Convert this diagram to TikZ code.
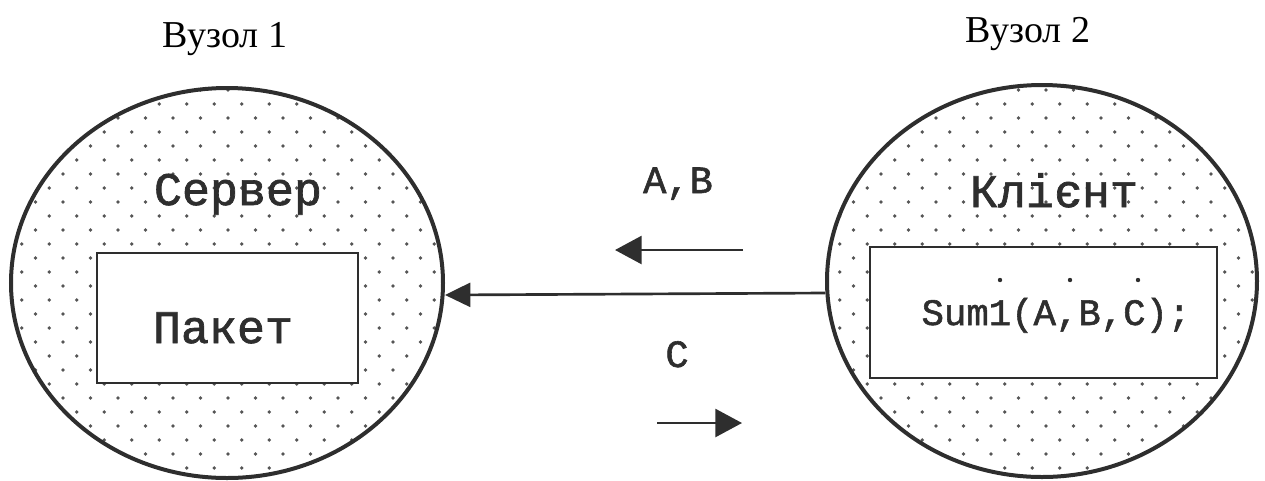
\documentclass[tikz,border=0pt]{standalone}
\usepackage{fontspec}
\setmainfont{Liberation Serif}
\newfontfamily\courf{Liberation Mono}[FakeBold=1.5]
\usetikzlibrary{shapes.geometric,arrows.meta}
\definecolor{ink}{HTML}{2E2E2E}
\definecolor{dotc}{HTML}{555555}
\tikzset{
  nodeell/.style={ellipse, draw=ink, line width=3pt, inner sep=0pt},
  procbox/.style={rectangle, draw=ink, fill=white, line width=2.2pt, inner sep=0pt},
  bigtxt/.style={anchor=base, text=ink, font=\courf\fontsize{35}{40}\selectfont, inner sep=0pt},
  codetxt/.style={anchor=base, text=ink, font=\courf\fontsize{28}{32}\selectfont, inner sep=0pt},
  lbltxt/.style={anchor=base, text=ink, font=\courf\fontsize{29}{33}\selectfont, inner sep=0pt},
  titletxt/.style={anchor=base, text=black, font=\fontsize{28.5}{32}\selectfont, inner sep=0pt},
  flowarrow/.style={draw=ink, line width=2pt, -{Triangle[length=19pt,width=18pt]}},
  smallarrow/.style={draw=ink, line width=2pt, -{Triangle[length=20pt,width=21pt]}},
  dotfill/.style={fill=dotc}
}
\begin{document}
\begin{tikzpicture}[x=0.75pt,y=-0.75pt]
\useasboundingbox (0,0) rectangle (1265,480);
% dotted fill of the two nodes
\begin{scope}
  \clip (227,283) ellipse [x radius=216, y radius=195];
  \foreach \j [evaluate=\j as \off using {mod(\j,2)*13.75}] in {0,...,28}
    \foreach \i in {0,...,16}
      \fill[dotfill] (8+27.5*\i+\off, 90+14*\j) circle [radius=1.9];
\end{scope}
\begin{scope}
  \clip (1042,281) ellipse [x radius=215, y radius=196];
  \foreach \j [evaluate=\j as \off using {mod(\j,2)*13.75}] in {0,...,28}
    \foreach \i in {0,...,16}
      \fill[dotfill] (826+27.5*\i+\off, 90+14*\j) circle [radius=1.9];
\end{scope}
% nodes
\node[nodeell, minimum width=324pt, minimum height=292.5pt] (L) at (227,283) {};
\node[nodeell, minimum width=322.5pt, minimum height=294pt] (R) at (1042,281) {};
\node[procbox, minimum width=195.75pt, minimum height=97.5pt] (Lbox) at (227.5,318) {};
\node[procbox, minimum width=260.25pt, minimum height=98.25pt] (Rbox) at (1043.5,312.5) {};
% texts
\node[titletxt] (t1) at (225,47) {Вузол 1};
\node[titletxt] (t2) at (1028,42) {Вузол 2};
\node[bigtxt] (srv) at (238,205) {Сервер};
\node[bigtxt] (pak) at (223,343) {Пакет};
\node[bigtxt] (cli) at (1054,207) {Клієнт};
\node[codetxt] (sum) at (1056,325) {Sum1(A,B,C);};
\fill[ink] (1000,280) circle [radius=2.2];
\fill[ink] (1070,280) circle [radius=2.2];
\fill[ink] (1138,280) circle [radius=2.2];
\node[lbltxt] (ab) at (678,193) {A,B};
\node[lbltxt] (c) at (677,367) {C};
% connectors
\draw[flowarrow] ([yshift=-9pt]R.west) -- ([yshift=-9pt]L.east);
\coordinate (u1) at (743,250);
\coordinate (u2) at (615,250);
\draw[smallarrow] (u1) -- (u2);
\coordinate (d1) at (657,423);
\coordinate (d2) at (742,423);
\draw[smallarrow] (d1) -- (d2);
\end{tikzpicture}
\end{document}
